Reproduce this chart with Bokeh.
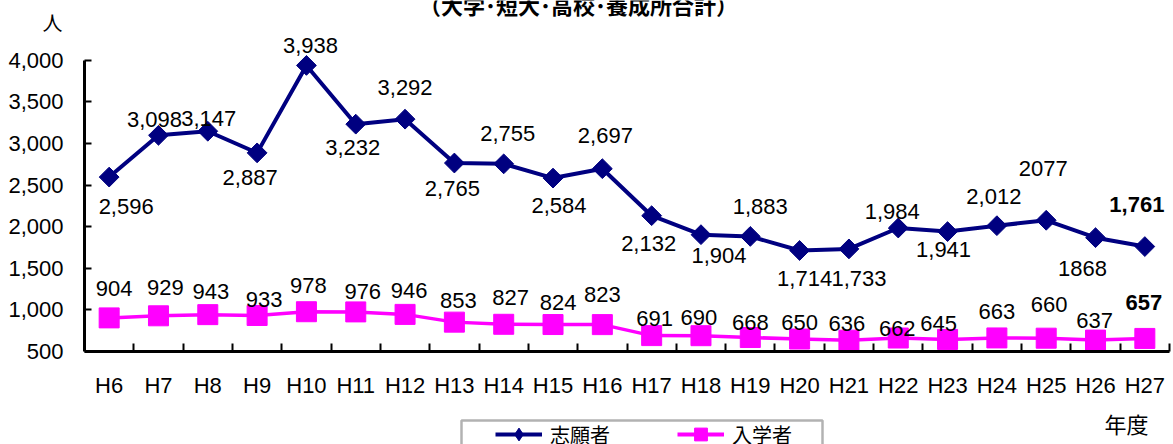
from bokeh.plotting import figure
from bokeh.layouts import column
from bokeh.models import (ColumnDataSource, FixedTicker, Label, Legend, LegendItem,
                          BoxAnnotation, Range1d, NumeralTickFormatter)
from bokeh.core.properties import value
from bokeh.embed import file_html
from bokeh.resources import INLINE
import math

# ---------------- data ----------------
years = ["H6", "H7", "H8", "H9", "H10", "H11", "H12", "H13", "H14", "H15", "H16",
         "H17", "H18", "H19", "H20", "H21", "H22", "H23", "H24", "H25", "H26", "H27"]
applicants = [2596, 3098, 3147, 2887, 3938, 3232, 3292, 2765, 2755, 2584, 2697,
              2132, 1904, 1883, 1714, 1733, 1984, 1941, 2012, 2077, 1868, 1761]
enrolled = [904, 929, 943, 933, 978, 976, 946, 853, 827, 824, 823,
            691, 690, 668, 650, 636, 662, 645, 663, 660, 637, 657]
applicant_labels = ["2,596", "3,098", "3,147", "2,887", "3,938", "3,232", "3,292", "2,765",
                    "2,755", "2,584", "2,697", "2,132", "1,904", "1,883", "1,714", "1,733",
                    "1,984", "1,941", "2,012", "2077", "1868", "1,761"]
enrolled_labels = ["904", "929", "943", "933", "978", "976", "946", "853", "827", "824", "823",
                   "691", "690", "668", "650", "636", "662", "645", "663", "660", "637", "657"]
y_ticks = [500, 1000, 1500, 2000, 2500, 3000, 3500, 4000]
series_names = ["志願者", "入学者"]
title_text = "（大学･短大･高校･養成所合計）"
y_unit = "人"
x_unit = "年度"

# ---------------- label placement (screen px) ----------------
app_dx = [17, -4, 1, -7, 4, -3, 0, -2, 4, 6, 3, -3, 18, 10, 5, 10, -6, -4, -3, -3, -13, -8]
app_dy = [29, -16, -13, 25, -20, 23, -32, 25, -30, 27, -33, 28, 21, -30, 28, 30, -17, 18, -29, -52, 31, -42]
enr_dx = [5, 7, 3, 7, 2, 7, 4, 4, 7, 5, 0, 3, -2, 0, 0, -2, -1, -9, 0, 3, -1, -1]
enr_dy = [-29, -28, -23, -16, -26, -20, -24, -22, -27, -22, -30, -17, -18, -15, -17, -17, -10, -16, -26, -34, -20, -36]
n = len(years)
styles = ["normal"] * (n - 1) + ["bold"]
idx = list(range(n))

NAVY = "#000080"
PINK = "#FF00FF"
W = 1173
LEFT = 84
RIGHT = 4
TOP_H = 34
MAIN_H = 370 - (TOP_H - 30)
BOT_H = 444 - TOP_H - MAIN_H
AXIS_Y = 354  # page y of the x axis

# ---------------- top strip: title + unit (page pixel coordinates) ----------------
top = figure(width=W, height=TOP_H, x_range=Range1d(0, W), y_range=Range1d(TOP_H, 0),
             output_backend="svg", toolbar_location=None,
             x_axis_location=None, y_axis_location=None,
             min_border_left=0, min_border_right=0,
             min_border_top=0, min_border_bottom=0)
top.frame_align = False
top.outline_line_color = None
top.grid.visible = False
top.add_layout(Label(x=578, y=3.5, text=title_text, text_align="center", text_baseline="middle",
                     text_font_style="bold", text_font="Noto Sans CJK JP",
                     text_font_size="22px", text_color="black"))
top.add_layout(Label(x=52, y=21.5, text=y_unit, text_align="center", text_baseline="middle",
                     text_font="Noto Sans CJK JP", text_font_size="20px", text_color="black"))

# ---------------- main chart ----------------
px_per_unit = 294 / 3500.0
y_top = 500 + (AXIS_Y - TOP_H) / px_per_unit

p = figure(width=W, height=MAIN_H,
           x_range=Range1d(-0.5, n - 0.5), y_range=Range1d(500, y_top),
           output_backend="svg", toolbar_location=None,
           min_border_left=LEFT, min_border_right=RIGHT, min_border_top=0,
           min_border_bottom=TOP_H + MAIN_H - AXIS_Y)
p.background_fill_color = "white"
p.border_fill_color = "white"
p.outline_line_color = None
p.xgrid.visible = False
p.ygrid.visible = False

p.xaxis.ticker = FixedTicker(ticks=idx, minor_ticks=[i + 0.5 for i in idx])
p.xaxis.major_label_overrides = {i: years[i] for i in idx}
p.xaxis.major_tick_line_color = None
p.xaxis.minor_tick_in = 8
p.xaxis.minor_tick_out = 0
p.xaxis.minor_tick_line_width = 2
p.xaxis.minor_tick_line_color = "black"
p.xaxis.axis_line_width = 3
p.xaxis.axis_line_color = "black"
p.xaxis.major_label_standoff = 15
p.xaxis.major_label_text_font = "Liberation Sans"
p.xaxis.major_label_text_font_size = "22px"
p.xaxis.major_label_text_color = "black"

p.yaxis.ticker = FixedTicker(ticks=y_ticks)
p.yaxis.formatter = NumeralTickFormatter(format="0,0")
p.yaxis.bounds = (500, 4000)
p.yaxis.major_tick_in = 7
p.yaxis.major_tick_out = 0
p.yaxis.major_tick_line_width = 2
p.yaxis.major_tick_line_color = "black"
p.yaxis.minor_tick_line_color = None
p.yaxis.axis_line_width = 3
p.yaxis.axis_line_color = "black"
p.yaxis.major_label_standoff = 21
p.yaxis.major_label_text_font = "Liberation Sans"
p.yaxis.major_label_text_font_size = "22px"
p.yaxis.major_label_text_color = "black"

src_a = ColumnDataSource(dict(x=idx, y=applicants, t=applicant_labels, dx=app_dx, dy=app_dy, fs=styles))
src_e = ColumnDataSource(dict(x=idx, y=enrolled, t=enrolled_labels, dx=enr_dx, dy=enr_dy, fs=styles))

p.line("x", "y", source=src_a, line_color=NAVY, line_width=4)
p.scatter("x", "y", source=src_a, marker="square", size=14, angle=math.pi / 4,
          fill_color=NAVY, line_color=NAVY)
p.line("x", "y", source=src_e, line_color=PINK, line_width=3.5)
p.scatter("x", "y", source=src_e, marker="square", size=20, fill_color=PINK, line_color=PINK)

for src in (src_a, src_e):
    p.text("x", "y", text="t", source=src, x_offset="dx", y_offset="dy",
           text_font=value("Liberation Sans"), text_font_size="22px", text_font_style="fs",
           text_align="center", text_baseline="middle", text_color="black")

# ---------------- bottom strip: legend + x unit ----------------
bot = figure(width=W, height=BOT_H, x_range=Range1d(LEFT, W - RIGHT),
             y_range=Range1d(444, 444 - BOT_H),
             output_backend="svg", toolbar_location=None,
             x_axis_location=None, y_axis_location=None,
             min_border_left=LEFT, min_border_right=RIGHT,
             min_border_top=0, min_border_bottom=0)
bot.outline_line_color = None
bot.grid.visible = False
# legend proxies: same series, lying outside this strip's ranges (not visible here)
la = bot.line("x", "y", source=src_a, line_color=NAVY, line_width=4)
ma = bot.scatter("x", "y", source=src_a, marker="diamond", size=14,
                 fill_color=NAVY, line_color=NAVY)
le = bot.line("x", "y", source=src_e, line_color=PINK, line_width=4)
me = bot.scatter("x", "y", source=src_e, marker="square", size=20, fill_color=PINK, line_color=PINK)

bot.add_layout(BoxAnnotation(left=461, right=822, top=420, bottom=470,
                             fill_alpha=0, line_color="black", line_width=2.5))
GH = 32
legend = Legend(items=[LegendItem(label=series_names[0], renderers=[la, ma]),
                       LegendItem(label=series_names[1], renderers=[le, me])],
                location=(495 - LEFT, 444 - (434 + GH / 2)), orientation="horizontal",
                padding=0, margin=0, border_line_color=None, background_fill_alpha=0,
                glyph_width=47, glyph_height=GH, label_standoff=8, label_width=127, spacing=0,
                label_text_font="Noto Sans CJK JP", label_text_font_size="20px",
                label_text_color="black")
bot.add_layout(legend)
bot.add_layout(Label(x=1126, y=422, text=x_unit, text_align="center", text_baseline="middle",
                     text_font="Noto Sans CJK JP", text_font_size="22px", text_color="black"))

layout = column(top, p, bot, spacing=0)
open("out.html", "w").write(file_html(layout, INLINE))
